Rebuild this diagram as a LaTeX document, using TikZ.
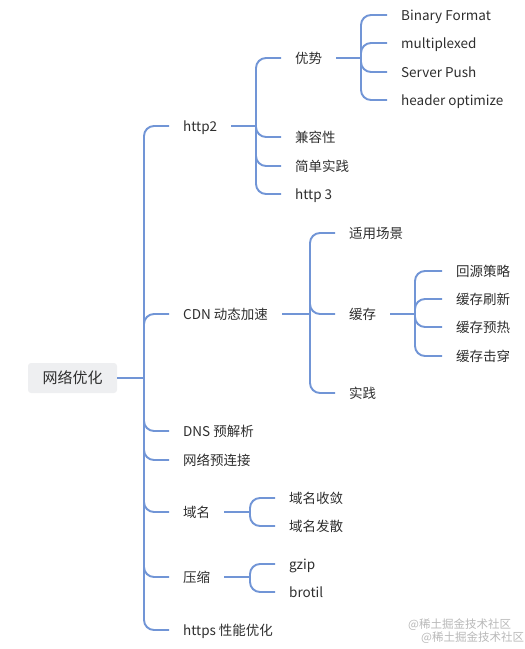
\documentclass[tikz,border=0pt]{standalone}
\usepackage{fontspec}
\setmainfont{Noto Sans CJK SC}
\definecolor{linec}{HTML}{7195D6}
\definecolor{textc}{HTML}{2E2E2E}
\definecolor{rootfill}{HTML}{EEEFF1}
\definecolor{wmc}{HTML}{B8B8B8}
\tikzset{
  x=1pt, y=1pt,
  leaf/.style={anchor=west, inner xsep=14pt, inner ysep=0pt, text=textc,
    font=\fontsize{13.5}{15}\selectfont, text height=11.5pt, text depth=1.5pt},
  rootbox/.style={fill=rootfill, rounded corners=3pt, minimum width=89pt,
    minimum height=30pt, inner sep=0pt, text=textc, font=\fontsize{15}{17}\selectfont},
  conn/.style={draw=linec, line width=1.9pt, rounded corners=10pt},
  wm/.style={text=wmc, font=\fontsize{11.5}{12}\selectfont, inner sep=0pt, anchor=west}
}
\begin{document}
\begin{tikzpicture}
\useasboundingbox (0,0) rectangle (525,-649);
% root
\node[rootbox] (root) at (72.5,-378) {网络优化};
\coordinate (t0) at (144,-378);
% level 1
\node[leaf] (http2) at (169,-126) {http2};
\node[leaf] (cdn) at (169,-314) {CDN 动态加速};
\node[leaf] (dns) at (169,-431) {DNS 预解析};
\node[leaf] (pre) at (169,-460) {网络预连接};
\node[leaf] (dom) at (169,-512) {域名};
\node[leaf] (cmp) at (169,-577) {压缩};
\node[leaf] (https) at (169,-630) {https 性能优化};
% http2 children
\coordinate (t1) at (256,-126);
\node[leaf] (adv) at (281,-58) {优势};
\node[leaf] (compat) at (281,-137) {兼容性};
\node[leaf] (simple) at (281,-166) {简单实践};
\node[leaf] (h3) at (281,-194) {http 3};
% adv children
\coordinate (t2) at (361,-58);
\node[leaf] (bin) at (387,-15) {Binary Format};
\node[leaf] (mux) at (387,-43) {multiplexed};
\node[leaf] (push) at (387,-72) {Server Push};
\node[leaf] (hdr) at (387,-100) {header optimize};
% cdn children
\coordinate (t3) at (310,-314);
\node[leaf] (scene) at (335,-233) {适用场景};
\node[leaf] (cache) at (335,-314) {缓存};
\node[leaf] (prac) at (335,-393) {实践};
% cache children
\coordinate (t4) at (415,-314);
\node[leaf] (c1) at (442,-271) {回源策略};
\node[leaf] (c2) at (442,-299) {缓存刷新};
\node[leaf] (c3) at (442,-327) {缓存预热};
\node[leaf] (c4) at (442,-356) {缓存击穿};
% domain children
\coordinate (t5) at (250,-512);
\node[leaf] (d1) at (275,-498) {域名收敛};
\node[leaf] (d2) at (275,-526) {域名发散};
% compress children
\coordinate (t6) at (250,-577);
\node[leaf] (g1) at (275,-564) {gzip};
\node[leaf] (g2) at (275,-592) {brotil};
% connectors
\draw[conn] (root.east) -- (t0);
\foreach \n in {http2,cdn,dns,pre,dom,cmp,https} \draw[conn] (t0) |- (\n.west);
\draw[conn] (http2.east) -- (t1);
\foreach \n in {adv,compat,simple,h3} \draw[conn] (t1) |- (\n.west);
\draw[conn] (adv.east) -- (t2);
\foreach \n in {bin,mux,push,hdr} \draw[conn] (t2) |- (\n.west);
\draw[conn] (cdn.east) -- (t3);
\foreach \n in {scene,cache,prac} \draw[conn] (t3) |- (\n.west);
\draw[conn] (cache.east) -- (t4);
\foreach \n in {c1,c2,c3,c4} \draw[conn] (t4) |- (\n.west);
\draw[conn] (dom.east) -- (t5);
\foreach \n in {d1,d2} \draw[conn] (t5) |- (\n.west);
\draw[conn] (cmp.east) -- (t6);
\foreach \n in {g1,g2} \draw[conn] (t6) |- (\n.west);
% watermark
\node[wm] (wm1) at (408,-625) {@稀土掘金技术社区};
\node[wm] (wm2) at (421,-638) {@稀土掘金技术社区};
\end{tikzpicture}
\end{document}
